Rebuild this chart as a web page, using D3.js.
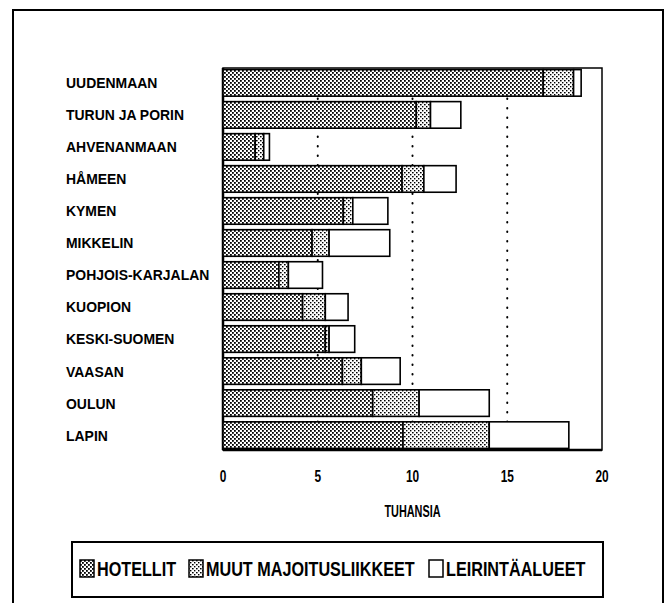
<!DOCTYPE html>
<html>
<head>
<meta charset="utf-8">
<script src="https://cdn.jsdelivr.net/npm/d3@7"></script>
<style>
  body { margin: 0; background: #fff; }
  text { font-family: "Liberation Sans", Arial, sans-serif; font-weight: bold; fill: #000; }
</style>
</head>
<body>
<div id="container"></div>
<script>
// regions (lääni), top to bottom
let regions = ["UUDENMAAN", "TURUN JA PORIN", "AHVENANMAAN", "HÅMEEN", "KYMEN", "MIKKELIN",
  "POHJOIS-KARJALAN", "KUOPION", "KESKI-SUOMEN", "VAASAN", "OULUN", "LAPIN"];

// thousands
let hotellit = [16.9, 10.2, 1.7, 9.45, 6.35, 4.7, 2.95, 4.2, 5.4, 6.3, 7.9, 9.5];
let muut = [1.6, 0.75, 0.45, 1.15, 0.5, 0.9, 0.5, 1.2, 0.2, 1.0, 2.45, 4.55];
let leirinta = [0.4, 1.6, 0.3, 1.7, 1.85, 3.2, 1.8, 1.2, 1.35, 2.05, 3.7, 4.2];

let seriesNames = ["HOTELLIT", "MUUT MAJOITUSLIIKKEET", "LEIRINTÄALUEET"];
let xTicks = [0, 5, 10, 15, 20];

let w = 669;
let h = 603;

let viz = d3.select("#container")
  .append("svg")
    .attr("width", w)
    .attr("height", h)
;

// the original uses a condensed bold face, so squeeze text horizontally
function narrowText(sel, x, y, sx, size, anchor, str){
  return sel.append("text")
    .attr("transform", "translate(" + x + "," + y + ") scale(" + sx + ",1)")
    .attr("dy", "0.35em")
    .attr("text-anchor", anchor)
    .style("font-size", size + "px")
    .text(str);
}

// dither patterns like the printed original
let defs = viz.append("defs");
let p1 = defs.append("pattern").attr("id", "hot").attr("width", 4).attr("height", 4)
  .attr("patternUnits", "userSpaceOnUse");
p1.append("rect").attr("width", 4).attr("height", 4).attr("fill", "#fff");
p1.append("rect").attr("x", 0).attr("y", 0).attr("width", 1.8).attr("height", 1.8).attr("fill", "#000");
p1.append("rect").attr("x", 2).attr("y", 2).attr("width", 1.8).attr("height", 1.8).attr("fill", "#000");
let p2 = defs.append("pattern").attr("id", "muu").attr("width", 4).attr("height", 4)
  .attr("patternUnits", "userSpaceOnUse");
p2.append("rect").attr("width", 4).attr("height", 4).attr("fill", "#fff");
p2.append("rect").attr("x", 0).attr("y", 0).attr("width", 1.6).attr("height", 1.4).attr("fill", "#000");
p2.append("rect").attr("x", 2).attr("y", 2).attr("width", 1.4).attr("height", 1.4).attr("fill", "#000");
let fills = ["url(#hot)", "url(#muu)", "#fff"];

// outer frame (runs off the bottom of the scan)
viz.append("rect")
  .attr("x", 13).attr("y", 10).attr("width", 650).attr("height", 610)
  .attr("fill", "none").attr("stroke", "#000").attr("stroke-width", 2);

let xScale = d3.scaleLinear().domain([0, 20]).range([223, 602]);
let yScale = d3.scaleBand().domain(regions).range([68, 450]).paddingInner(0.17).paddingOuter(0.05);

// plot box
viz.append("rect")
  .attr("x", xScale(0)).attr("y", 68)
  .attr("width", xScale(20) - xScale(0)).attr("height", 450 - 68)
  .attr("fill", "none").attr("stroke", "#000").attr("stroke-width", 1.5);
viz.append("line")
  .attr("x1", xScale(0)).attr("x2", xScale(0)).attr("y1", 68).attr("y2", 450)
  .attr("stroke", "#000").attr("stroke-width", 2.5);
viz.append("line")
  .attr("x1", xScale(0)).attr("x2", xScale(20)).attr("y1", 450).attr("y2", 450)
  .attr("stroke", "#000").attr("stroke-width", 2.5);

// dotted gridlines
viz.selectAll(".grid").data([5, 10, 15]).enter()
  .append("line")
    .attr("class", "grid")
    .attr("x1", d => xScale(d)).attr("x2", d => xScale(d))
    .attr("y1", 70).attr("y2", 450)
    .attr("stroke", "#000").attr("stroke-width", 2)
    .attr("stroke-linecap", "round")
    .attr("stroke-dasharray", "0.5,9");

// stack the three series
let rows = regions.map(function(r, i){
  return { region: r, hot: hotellit[i], muu: muut[i], lei: leirinta[i] };
});
let stacked = d3.stack().keys(["hot", "muu", "lei"])(rows);

let barGroup = viz.append("g").attr("class", "bars");
stacked.forEach(function(layer, k){
  barGroup.selectAll(".seg" + k).data(layer).enter()
    .append("rect")
      .attr("class", "seg" + k)
      .attr("x", d => xScale(d[0]))
      .attr("y", d => yScale(d.data.region))
      .attr("width", d => xScale(d[1]) - xScale(d[0]))
      .attr("height", yScale.bandwidth())
      .attr("fill", fills[k])
      .attr("stroke", "#000")
      .attr("stroke-width", 1.6);
});

// category labels
regions.forEach(function(r){
  narrowText(viz, 66, yScale(r) + yScale.bandwidth() / 2, 0.9, 15.5, "start", r);
});

// x tick labels
xTicks.forEach(function(t){
  narrowText(viz, xScale(t), 476, 0.7, 17, "middle", t);
});

narrowText(viz, xScale(10), 511, 0.68, 16, "middle", "TUHANSIA");

// legend
viz.append("rect")
  .attr("x", 72).attr("y", 542).attr("width", 531).attr("height", 55)
  .attr("fill", "none").attr("stroke", "#000").attr("stroke-width", 2);
let legendX = [80, 189, 429];
seriesNames.forEach(function(name, k){
  viz.append("rect")
    .attr("x", legendX[k]).attr("y", 560)
    .attr("width", 14).attr("height", 17)
    .attr("fill", fills[k]).attr("stroke", "#000").attr("stroke-width", 1.5);
  narrowText(viz, legendX[k] + 17, 569, 0.81, 20, "start", name);
});
</script>
</body>
</html>
